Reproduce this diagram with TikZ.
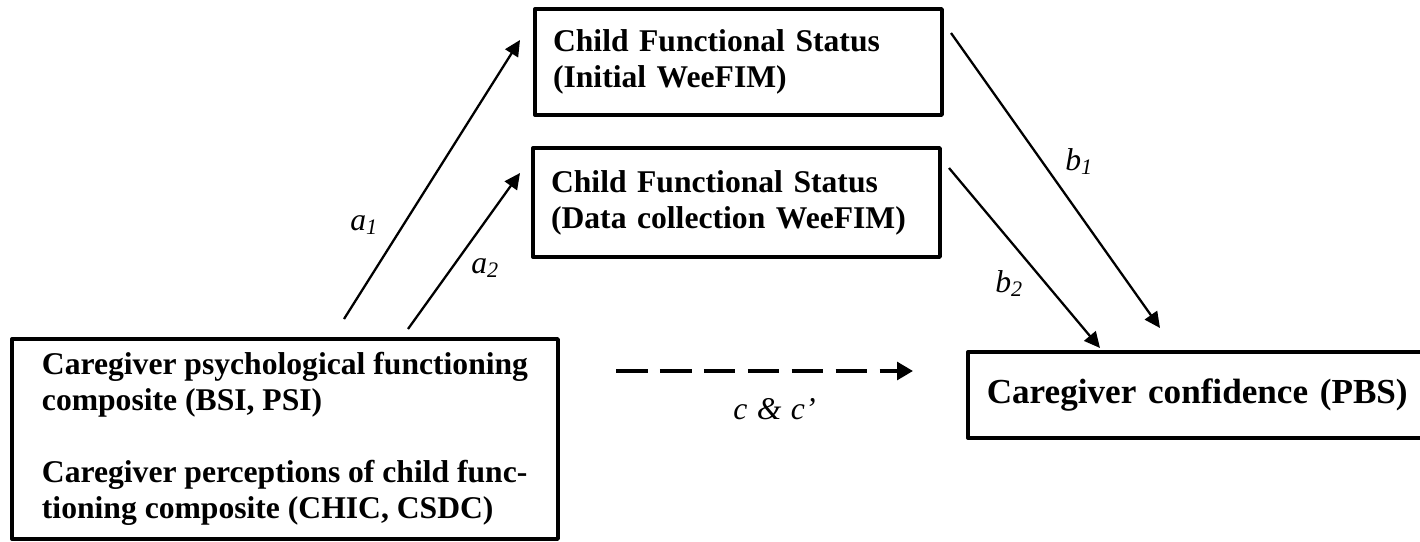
\documentclass[tikz,border=0pt]{standalone}
\usepackage{fontspec}
\setmainfont{Liberation Serif}
\usetikzlibrary{arrows.meta,positioning,calc}

\begin{document}
\begin{tikzpicture}[x=0.02cm, y=-0.02cm, line join=round,
  box/.style={draw, line width=2pt, inner xsep=0.36cm, inner ysep=0pt, align=left,
    font=\fontsize{18}{20.5}\selectfont\bfseries},
  arr/.style={line width=1.3pt, -{Triangle[length=9pt,width=8.5pt]}},
  lbl/.style={inner sep=0pt, font=\fontsize{18}{20.5}\selectfont\itshape}]
\useasboundingbox (0,0) rectangle (1420,541);
% boxes
\node[box, minimum width=8.14cm, minimum height=2.12cm, text width=7.42cm] (init) at (738.5,62) {Child Functional Status\\(Initial WeeFIM)};
\node[box, minimum width=8.14cm, minimum height=2.18cm, text width=7.42cm] (data) at (736.5,202.5) {Child Functional Status\\(Data collection WeeFIM)};
\node[box, minimum width=10.92cm, minimum height=4cm] (care) at (285,439) {Caregiver psychological functioning\\composite (BSI, PSI)\\[20.5pt]Caregiver perceptions of child func-\\tioning composite (CHIC, CSDC)};
\node[box, anchor=west, minimum width=9.28cm, minimum height=1.72cm, text width=8.52cm, inner xsep=0.38cm,
  font=\fontsize{20}{24}\selectfont\bfseries] (conf) at (966,395) {Caregiver confidence (PBS)};
% path ends
\coordinate (a1s) at (344,319);
\coordinate (a1e) at (520,40);
\coordinate (a2s) at (408,329);
\coordinate (a2e) at (520,173);
\coordinate (b1s) at (951,33);
\coordinate (b1e) at (1160,328);
\coordinate (b2s) at (949,168);
\coordinate (b2e) at (1100,348);
\coordinate (cs) at (616,371);
\coordinate (ce) at (913,371);
\draw[arr] (a1s)--(a1e);
\draw[arr] (a2s)--(a2e);
\draw[arr] (b1s)--(b1e);
\draw[arr] (b2s)--(b2e);
\draw[line width=2pt, dash pattern=on 18pt off 7pt, -{Triangle[length=9pt,width=10pt]}] (cs)--(ce);
% labels
\node[lbl, anchor=base west] (la1) at (350,230) {a\textsubscript{1}};
\node[lbl, anchor=base west] (la2) at (471,273) {a\textsubscript{2}};
\node[lbl, anchor=base west] (lb1) at (1065,170) {b\textsubscript{1}};
\node[lbl, anchor=base west] (lb2) at (995,292) {b\textsubscript{2}};
\node[lbl, anchor=base west] (lc) at (733,419) {c\hspace{0.3em}\&\hspace{0.3em}c’};
\end{tikzpicture}
\end{document}
